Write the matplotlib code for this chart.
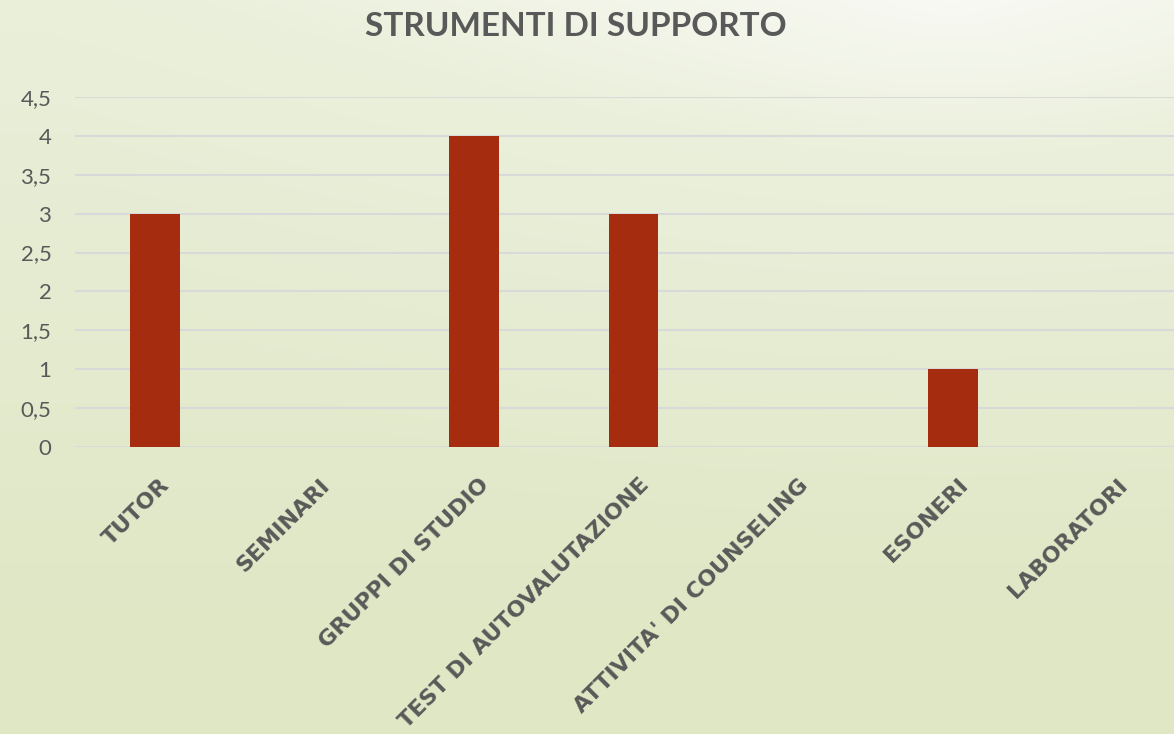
import matplotlib.pyplot as plt
import numpy as np
from matplotlib.colors import LinearSegmentedColormap
from matplotlib.ticker import FuncFormatter
from matplotlib.transforms import ScaledTranslation

categories = ["TUTOR", "SEMINARI", "GRUPPI DI STUDIO", "TEST DI AUTOVALUTAZIONE",
              "ATTIVITA' DI COUNSELING", "ESONERI", "LABORATORI"]
values = [3, 0, 4, 3, 0, 1, 0]
y_ticks = [0, 0.5, 1, 1.5, 2, 2.5, 3, 3.5, 4, 4.5]

title = "STRUMENTI DI SUPPORTO"
bar_color = "#a52c0f"
text_color = "#595959"
grid_color = "#d9d9d9"

W, H = 1174, 734
fig = plt.figure(figsize=(W / 100, H / 100), dpi=100)

# background: mostly vertical gradient, brightest near the top right
bg = fig.add_axes([0, 0, 1, 1], zorder=0)
yy, xx = np.mgrid[0:H, 0:W]
corner = np.clip(np.sqrt((xx - 950) ** 2 + (yy * 1.6) ** 2) / 900.0, 0, 1)
t = np.clip(0.8 * yy / H + 0.3 * corner, 0, 1)
cmap = LinearSegmentedColormap.from_list(
    "bg", [(0, "#f8f9f3"), (0.25, "#ebf0dc"), (1, "#dfe7c5")])
bg.imshow(t, cmap=cmap, vmin=0, vmax=1, aspect="auto", extent=[0, W, H, 0])
bg.set_axis_off()

left = 75 / W
bottom = (H - 447) / H
width = 7 * 159.6 / W
height = 350 / H
ax = fig.add_axes([left, bottom, width, height], zorder=1)
ax.patch.set_alpha(0)

x = np.arange(len(categories))
ax.bar(x, values, width=0.31, color=bar_color, zorder=3)

ax.set_xlim(-0.5, len(categories) - 0.5)
ax.set_ylim(0, 4.5)
ax.set_yticks(y_ticks)
ax.yaxis.set_major_formatter(FuncFormatter(lambda v, p: f"{v:g}".replace(".", ",")))
ax.grid(axis="y", color=grid_color, linewidth=1.5, zorder=0)
ax.set_axisbelow(True)
for s in ax.spines.values():
    s.set_visible(False)
ax.tick_params(axis="y", length=0, pad=17, labelsize=16, labelcolor=text_color)
ax.tick_params(axis="x", length=0, pad=20)
ax.set_xticks(x)
ax.set_xticklabels(categories, rotation=45, ha="right", rotation_mode="anchor",
                   fontsize=16, fontweight="bold", color=text_color,
                   family="DejaVu Sans")
shift = ScaledTranslation(5 / 100, 0, fig.dpi_scale_trans)
for lbl in ax.get_xticklabels():
    lbl.set_transform(lbl.get_transform() + shift)
for lbl in ax.get_yticklabels():
    lbl.set_family("Lato")

fig.text(576 / W, 1 - 27 / H, title, ha="center", va="center", fontsize=24,
         fontweight="bold", color=text_color, family="Lato")

fig.savefig("out.png", dpi=100)
